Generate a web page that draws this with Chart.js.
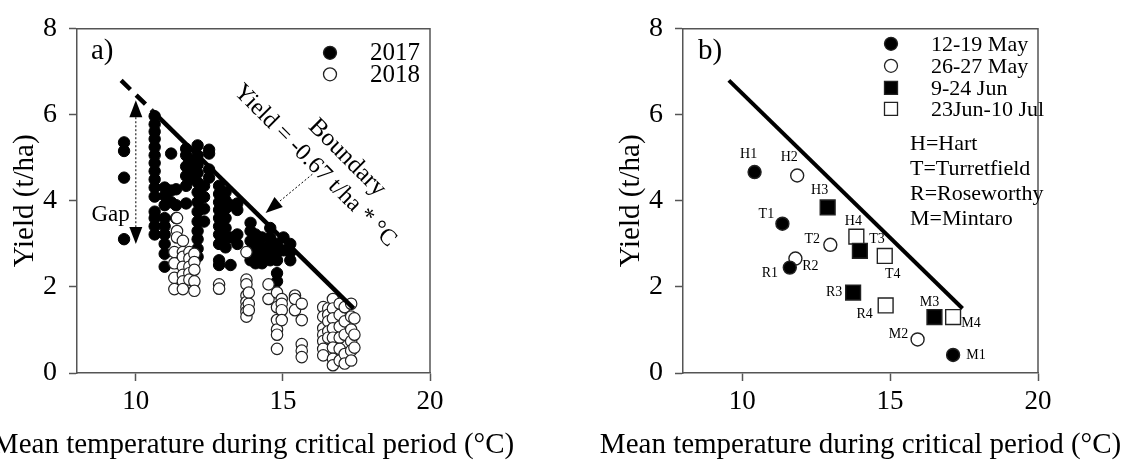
<!DOCTYPE html>
<html>
<head>
<meta charset="utf-8">
<script src="https://cdn.jsdelivr.net/npm/chart.js@4.4.1/dist/chart.umd.min.js"></script>
<style>
  html, body { margin: 0; padding: 0; background: #fff; overflow: hidden; }
  #wrap { position: relative; width: 1128px; height: 463px; }
  canvas { position: absolute; top: 0; }
  #chartA { left: 0; }
  #chartB { left: 560px; }
</style>
</head>
<body>
<div id="wrap">
  <canvas id="chartA" width="560" height="463"></canvas>
  <canvas id="chartB" width="568" height="463"></canvas>
</div>
<script>
const serif = "'Liberation Serif', 'Times New Roman', serif";

const xTicks = [10, 15, 20];
const yTicks = [0, 2, 4, 6, 8];
const xTitle = 'Mean temperature during critical period (°C)';
const yTitle = 'Yield (t/ha)';

// panel a) - points read off column by column (one temperature per column)
const temp2017 = [9.6, 10.64, 10.98, 11.2, 11.37, 11.71, 11.82, 12.1, 12.32, 12.49,
                  12.83, 13.05, 13.22, 13.45, 13.9, 14.07, 14.29, 14.57, 14.8, 15.02, 15.25];
const yield2017 = [
  [5.36, 5.16, 4.54, 3.11],
  [5.97, 5.78, 5.61, 5.44, 5.25, 5.06, 4.88, 4.69, 4.5, 4.31, 4.1, 3.75, 3.6, 3.41, 3.22],
  [4.31, 4.12, 3.9, 3.6, 3.41, 3.22, 3.0, 2.77, 2.47],
  [5.1, 4.24, 3.97],
  [4.27, 3.9, 3.6],
  [5.21, 5.06, 4.8, 4.58, 4.35, 3.94],
  [4.95, 4.73, 4.5],
  [5.29, 5.06, 4.84, 4.65, 4.43, 4.2, 3.97, 3.75, 3.52, 3.3, 3.11, 2.89, 2.7],
  [4.35, 4.09, 3.82, 3.52],
  [5.19, 5.1, 4.73, 4.54],
  [4.35, 4.16, 3.97, 3.79, 3.6, 3.41, 3.22, 3.0, 2.62, 2.51],
  [4.2, 4.01, 3.82, 3.6, 3.37, 3.15, 2.92],
  [3.9, 3.15, 2.51],
  [3.94, 3.79, 3.22, 3.0],
  [3.49, 3.3, 3.07, 2.85, 2.62],
  [3.22, 3.0, 2.77, 2.55],
  [3.15, 2.92, 2.7, 2.55],
  [3.37, 3.15, 3.0, 2.81, 2.62],
  [3.0, 2.81, 2.62, 2.32, 2.13],
  [3.15, 2.85],
  [3.0, 2.81, 2.62]
];
const temp2018 = [11.4, 11.31, 11.6, 11.82, 11.99, 12.83, 13.76, 13.84, 14.51, 14.8,
                  14.96, 15.41, 15.64, 16.37, 16.54, 16.7, 16.93, 17.1, 17.32, 17.43];
const yield2018 = [
  [3.6, 3.3, 3.15],
  [2.81, 2.55, 2.21, 1.95],
  [3.07, 2.81, 2.7, 2.47, 2.28, 2.13, 1.95],
  [2.81, 2.66, 2.47, 2.32, 2.17],
  [2.77, 2.58, 2.4, 2.13, 1.91],
  [2.06, 1.96],
  [2.81, 2.17, 2.06, 1.8, 1.65, 1.53, 1.42, 1.31],
  [1.87, 1.61, 1.46],
  [2.06, 1.72],
  [1.87, 1.53, 1.23, 1.01, 0.89, 0.56],
  [1.72, 1.61, 1.46, 1.23],
  [1.8, 1.72, 1.46],
  [1.61, 1.23, 0.67, 0.52, 0.37],
  [1.53, 1.31, 1.04, 0.89, 0.74, 0.56, 0.41],
  [1.5, 1.35, 1.2, 0.97, 0.82],
  [1.72, 1.5, 1.27, 1.04, 0.82, 0.59, 0.33, 0.18],
  [1.61, 1.35, 1.08, 0.82, 0.56, 0.29],
  [1.53, 1.2, 0.89, 0.44, 0.22],
  [1.61, 1.31, 1.01, 0.74, 0.52, 0.29],
  [1.27, 0.89, 0.59]
];
// boundary line, first segment is dashed
const boundaryTemp = [9.5, 10.55, 17.4];
const boundaryYield = [6.8, 6.1, 1.5];

// panel b) - one series per sowing window, sites H, T, R, M
const periods = ['12-19 May', '26-27 May', '9-24 Jun', '23Jun-10 Jul'];
const siteCodes = [
  ['H1', 'T1', 'R1', 'M1'],
  ['H2', 'T2', 'R2', 'M2'],
  ['H3', 'T3', 'R3', 'M3'],
  ['H4', 'T4', 'R4', 'M4']
];
const periodTemp = [
  [10.42, 11.36, 11.61, 17.13],
  [11.86, 12.98, 11.8, 15.93],
  [12.89, 13.98, 13.75, 16.5],
  [13.86, 14.82, 14.85, 17.13]
];
const periodYield = [
  [4.67, 3.47, 2.45, 0.42],
  [4.59, 2.98, 2.66, 0.78],
  [3.85, 2.84, 1.87, 1.3],
  [3.17, 2.72, 1.57, 1.3]
];
const siteNames = ['H=Hart', 'T=Turretfield', 'R=Roseworthy', 'M=Mintaro'];
const lineBTemp = [9.55, 17.45];
const lineBYield = [6.8, 1.5];

// label offsets (px) from each point in panel b
const labelOffsets = {
  H1: [-6, -18], H2: [-8, -18], H3: [-8, -17], H4: [-3, -15],
  T1: [-16, -9], T2: [-18, -5], T3: [17, -11], T4: [8, 18],
  R1: [-20, 6], R2: [15, 8], R3: [-19, 0], R4: [-21, 9],
  M1: [23, 0], M2: [-19, -5], M3: [-5, -15], M4: [18, 6]
};
const periodStyle = [
  { shape: 'circle', fill: '#000' },
  { shape: 'circle', fill: '#fff' },
  { shape: 'rect', fill: '#000' },
  { shape: 'rect', fill: '#fff' }
];

function columnsToPoints(temps, yields) {
  const pts = [];
  temps.forEach((t, i) => yields[i].forEach(v => pts.push({ x: t, y: v })));
  return pts;
}
function zip(xs, ys) {
  return xs.map((v, i) => ({ x: v, y: ys[i] }));
}

function makeScales() {
  return {
    x: {
      type: 'linear', min: 8, max: 20,
      afterBuildTicks: s => { s.ticks = xTicks.map(v => ({ value: v })); },
      afterFit: s => { s.height = 90; },
      grid: { drawOnChartArea: false, tickLength: 8, color: '#555', tickWidth: 1.5 },
      border: { color: '#555', width: 1.5 },
      ticks: { font: { family: serif, size: 27 }, color: '#000', padding: 5, maxRotation: 0 },
      // title drawn by the plugin: chart.js squeezes it to the chart width
      title: { display: false }
    },
    y: {
      type: 'linear', min: 0, max: 8,
      afterBuildTicks: s => { s.ticks = yTicks.map(v => ({ value: v })); },
      afterFit: s => { s.width = 77; },
      grid: { drawOnChartArea: false, tickLength: 8, color: '#555', tickWidth: 1.5 },
      border: { color: '#555', width: 1.5 },
      ticks: { font: { family: serif, size: 28 }, color: '#000', padding: 12 },
      title: { display: true, text: yTitle,
               font: { family: serif, size: 29 }, color: '#000', padding: { top: 8, bottom: 0 } }
    }
  };
}

function frame(ctx, a) {
  ctx.save();
  ctx.strokeStyle = '#555';
  ctx.lineWidth = 1.5;
  ctx.beginPath();
  ctx.moveTo(a.left, a.top);
  ctx.lineTo(a.right, a.top);
  ctx.lineTo(a.right, a.bottom);
  ctx.stroke();
  ctx.fillStyle = '#000';
  ctx.font = '29px ' + serif;
  ctx.textAlign = 'center';
  ctx.textBaseline = 'middle';
  ctx.fillText(xTitle, (a.left + a.right) / 2, 445);
  ctx.restore();
}

function marker(ctx, shape, fill, x, y, size) {
  ctx.beginPath();
  if (shape === 'circle') ctx.arc(x, y, size / 2, 0, Math.PI * 2);
  else ctx.rect(x - size / 2, y - size / 2, size, size);
  ctx.fillStyle = fill;
  ctx.fill();
  ctx.lineWidth = 1.3;
  ctx.strokeStyle = '#222';
  ctx.stroke();
}

function arrowHead(ctx, tx, ty, fx, fy, len, w) {
  const ang = Math.atan2(ty - fy, tx - fx);
  ctx.save();
  ctx.translate(tx, ty);
  ctx.rotate(ang);
  ctx.beginPath();
  ctx.moveTo(0, 0);
  ctx.lineTo(-len, -w / 2);
  ctx.lineTo(-len, w / 2);
  ctx.closePath();
  ctx.fillStyle = '#000';
  ctx.fill();
  ctx.restore();
}

function dottedArrow(ctx, fx, fy, tx, ty, bothEnds) {
  const len = 17, w = 13;
  const d = Math.hypot(tx - fx, ty - fy);
  const ux = (tx - fx) / d, uy = (ty - fy) / d;
  ctx.save();
  ctx.setLineDash([2, 2]);
  ctx.lineWidth = 1;
  ctx.strokeStyle = '#000';
  ctx.beginPath();
  ctx.moveTo(fx + (bothEnds ? ux * len : 0), fy + (bothEnds ? uy * len : 0));
  ctx.lineTo(tx - ux * len, ty - uy * len);
  ctx.stroke();
  ctx.restore();
  arrowHead(ctx, tx, ty, fx, fy, len, w);
  if (bothEnds) arrowHead(ctx, fx, fy, tx, ty, len, w);
}

function rotatedText(ctx, text, x, y, size) {
  ctx.save();
  ctx.translate(x, y);
  ctx.rotate(Math.PI / 4);
  ctx.font = size + 'px ' + serif;
  ctx.textAlign = 'center';
  ctx.textBaseline = 'middle';
  ctx.fillStyle = '#000';
  ctx.fillText(text, 0, 0);
  ctx.restore();
}

const annotateA = {
  id: 'annotateA',
  afterDraw(chart) {
    const { ctx, chartArea: a, scales: { x, y } } = chart;
    frame(ctx, a);
    ctx.save();
    ctx.fillStyle = '#000';
    ctx.font = '29px ' + serif;
    ctx.textBaseline = 'alphabetic';
    ctx.fillText('a)', a.left + 14, a.top + 30);

    // legend
    marker(ctx, 'circle', '#000', a.left + 253, a.top + 24, 13);
    marker(ctx, 'circle', '#fff', a.left + 253, a.top + 45.5, 13);
    ctx.fillStyle = '#000';
    ctx.font = '25px ' + serif;
    ctx.textBaseline = 'middle';
    ctx.fillText('2017', a.left + 293, a.top + 25);
    ctx.fillText('2018', a.left + 293, a.top + 47);

    // gap arrow
    dottedArrow(ctx, x.getPixelForValue(10), y.getPixelForValue(6.34),
                x.getPixelForValue(10), y.getPixelForValue(3.0), true);
    ctx.fillStyle = '#000';
    ctx.font = '23px ' + serif;
    ctx.textAlign = 'right';
    ctx.fillText('Gap', x.getPixelForValue(10) - 6, y.getPixelForValue(3.67));

    // boundary arrow and labels
    dottedArrow(ctx, x.getPixelForValue(16.0), y.getPixelForValue(4.62),
                x.getPixelForValue(14.41), y.getPixelForValue(3.72), false);
    rotatedText(ctx, 'Yield = -0.67 t/ha * °C', a.left + 238, a.top + 137, 24);
    rotatedText(ctx, 'Boundary', a.left + 270, a.top + 129, 25);
    ctx.restore();
  }
};

const annotateB = {
  id: 'annotateB',
  afterDraw(chart) {
    const { ctx, chartArea: a } = chart;
    frame(ctx, a);
    ctx.save();
    ctx.fillStyle = '#000';
    ctx.font = '29px ' + serif;
    ctx.textBaseline = 'alphabetic';
    ctx.fillText('b)', a.left + 15, a.top + 30);

    // sowing window legend
    const rows = [15, 37, 59, 80];
    periods.forEach((p, i) => {
      marker(ctx, periodStyle[i].shape, periodStyle[i].fill, a.left + 208, a.top + rows[i], 13);
      ctx.fillStyle = '#000';
      ctx.font = '22px ' + serif;
      ctx.textBaseline = 'middle';
      ctx.textAlign = 'left';
      ctx.fillText(p, a.left + 248, a.top + rows[i] + 1);
    });

    // site key
    ctx.font = '22px ' + serif;
    siteNames.forEach((s, i) => ctx.fillText(s, a.left + 227, a.top + 115 + i * 25));

    // point labels
    ctx.font = '14px ' + serif;
    ctx.textAlign = 'center';
    siteCodes.forEach((codes, di) => {
      const meta = chart.getDatasetMeta(di);
      codes.forEach((c, j) => {
        const pt = meta.data[j];
        const off = labelOffsets[c];
        ctx.fillText(c, pt.x + off[0], pt.y + off[1]);
      });
    });
    ctx.restore();
  }
};

const commonOptions = (padLeft, padRight) => ({
  responsive: false,
  animation: false,
  layout: { padding: { left: padLeft, right: padRight, top: 18, bottom: 0 } },
  plugins: { legend: { display: false }, tooltip: { enabled: false } },
  scales: makeScales()
});

new Chart(document.getElementById('chartA'), {
  type: 'scatter',
  data: {
    datasets: [
      {
        type: 'line',
        label: 'Boundary',
        data: zip(boundaryTemp, boundaryYield),
        borderColor: '#000',
        borderWidth: 4.5,
        pointRadius: 0,
        fill: false,
        tension: 0,
        segment: { borderDash: c => c.p0DataIndex === 0 ? [13, 8] : undefined }
      },
      {
        label: '2018',
        data: columnsToPoints(temp2018, yield2018),
        pointStyle: 'circle',
        pointRadius: 5.7,
        backgroundColor: '#fff',
        borderColor: '#222',
        borderWidth: 1.2
      },
      {
        label: '2017',
        data: columnsToPoints(temp2017, yield2017),
        pointStyle: 'circle',
        pointRadius: 5.7,
        backgroundColor: '#000',
        borderColor: '#000',
        borderWidth: 1
      }
    ]
  },
  options: commonOptions(0, 130),
  plugins: [annotateA]
});

const datasetsB = periods.map((p, i) => ({
  label: p,
  data: zip(periodTemp[i], periodYield[i]),
  pointStyle: periodStyle[i].shape,
  pointRadius: periodStyle[i].shape === 'rect' ? 10.5 : 6.5,
  backgroundColor: periodStyle[i].fill,
  borderColor: '#222',
  borderWidth: 1.4
}));
datasetsB.push({
  type: 'line',
  label: 'Boundary',
  data: zip(lineBTemp, lineBYield),
  borderColor: '#000',
  borderWidth: 4,
  pointRadius: 0,
  fill: false,
  tension: 0
});

new Chart(document.getElementById('chartB'), {
  type: 'scatter',
  data: { datasets: datasetsB },
  options: commonOptions(46, 90),
  plugins: [annotateB]
});
</script>
</body>
</html>
